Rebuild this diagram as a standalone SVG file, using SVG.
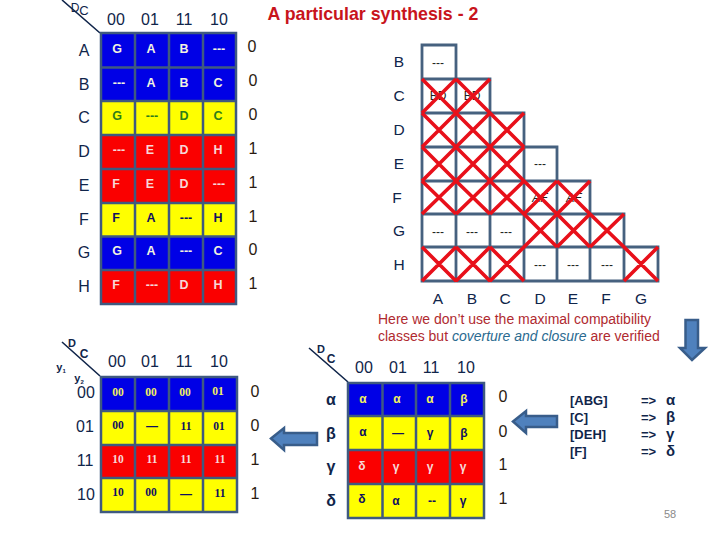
<svg xmlns="http://www.w3.org/2000/svg" width="720" height="540" viewBox="0 0 720 540">
<style>
text{font-family:"Liberation Sans",Arial,sans-serif;text-anchor:middle}
.h{font-size:16px;fill:#10254a}
.o{font-size:16px;fill:#2a1a10}
.c{font-size:12.500px;font-weight:bold}
.w{fill:#f2f2e0}.g{fill:#2e7d1a}.n{fill:#101060}.y{fill:#f2f060}.p{fill:#f6d8d8}
.grid{stroke:#3f5a80;stroke-width:2.5;fill:none}
.tri{stroke:#46617f;stroke-width:2.800;fill:#fff}
.x{stroke:#e8101a;stroke-width:3.600;fill:none}
.d{font-size:12px;fill:#222}
.lab{font-size:15.500px;fill:#10254a}
.arr{fill:#4f81bd;stroke:#385d8a;stroke-width:2.500}
.b{fill:#0000e6}.r{fill:#fa0000}.l{fill:#ffff00}
.m{font-size:13px;font-weight:bold;text-anchor:start;fill:#10254a}
.s{font-family:"Liberation Serif",serif;font-size:11.500px;font-weight:bold}
.k{font-weight:bold;fill:#10254a}
.e{font-size:12px;font-weight:bold}
</style>
<rect width="720" height="540" fill="#fff"/>
<g id="connectors">
<path d="M62 0L100 33M62 342L100 376M309 348L348 382" stroke="#10254a" stroke-width="1.600" fill="none"/>
</g>
<g id="title"><text x="373" y="20" font-size="17.800" font-weight="bold" fill="#c8141c">A particular synthesis - 2</text></g>
<g id="table1">
<text class="h" x="75" y="12" style="font-size:12px">D</text><text class="h" x="84" y="15" style="font-size:13px">C</text>
<g class="h"><text x="116" y="25">00</text><text x="150" y="25">01</text><text x="184" y="25">11</text><text x="219" y="25">10</text>
<text x="84" y="56">A</text><text x="84" y="90">B</text><text x="84" y="123">C</text><text x="84" y="157">D</text><text x="84" y="191">E</text><text x="84" y="225">F</text><text x="84" y="258">G</text><text x="84" y="292">H</text></g>
<rect class="b" x="101" y="33" width="135" height="68"/><rect class="l" x="101" y="101" width="135" height="34"/><rect class="r" x="101" y="135" width="135" height="68"/><rect class="l" x="101" y="203" width="135" height="33.500"/><rect class="b" x="101" y="236.500" width="135" height="33.500"/><rect class="r" x="101" y="270" width="135" height="34"/>
<path class="grid" d="M101 33H236V304H101ZM135 33V304M169 33V304M203 33V304M101 67.500H236M101 101H236M101 135H236M101 169H236M101 203H236M101 236.500H236M101 270H236"/>
<g class="c">
<text class="w" x="117" y="53">G</text><text class="w" x="151" y="53">A</text><text class="w" x="184" y="53">B</text><text class="w" x="219" y="53">---</text>
<text class="w" x="119" y="87">---</text><text class="w" x="151" y="87">A</text><text class="w" x="184" y="87">B</text><text class="w" x="218" y="87">C</text>
<text class="g" x="117" y="120">G</text><text class="g" x="152" y="120">---</text><text class="g" x="184" y="120">D</text><text class="g" x="218" y="120">C</text>
<text class="p" x="119" y="154">---</text><text class="p" x="150" y="154">E</text><text class="p" x="184" y="154">D</text><text class="p" x="218" y="154">H</text>
<text class="p" x="116" y="188">F</text><text class="p" x="150" y="188">E</text><text class="p" x="184" y="188">D</text><text class="p" x="219" y="188">---</text>
<text class="n" x="116" y="222">F</text><text class="n" x="151" y="222">A</text><text class="n" x="186" y="222">---</text><text class="n" x="218" y="222">H</text>
<text class="w" x="117" y="255">G</text><text class="w" x="151" y="255">A</text><text class="w" x="186" y="255">---</text><text class="w" x="218" y="255">C</text>
<text class="p" x="116" y="289">F</text><text class="p" x="152" y="289">---</text><text class="p" x="184" y="289">D</text><text class="p" x="218" y="289">H</text>
</g>
<g class="o"><text x="252" y="52">0</text><text x="253" y="86">0</text><text x="253" y="120">0</text><text x="253" y="154">1</text><text x="253" y="188">1</text><text x="253" y="222">1</text><text x="253" y="255">0</text><text x="253" y="289">1</text></g>
</g>
<g id="triangle">
<path class="tri" d="M422 45H456V79H422ZM422 79H490V113H422ZM422 113H524V147H422ZM422 147H557V181H422ZM422 181H590V214H422ZM422 214H624V247H422ZM422 247H658V281H422Z"/>
<path class="tri" style="fill:none" d="M456 79V281M490 113V281M524 147V281M557 181V281M590 214V281M624 247V281"/>
<g class="lab"><text x="399" y="67">B</text><text x="399" y="101">C</text><text x="399" y="135">D</text><text x="399" y="169">E</text><text x="397" y="203">F</text><text x="399" y="236">G</text><text x="399" y="270">H</text>
<text x="438" y="304">A</text><text x="472" y="304">B</text><text x="505" y="304">C</text><text x="540" y="304">D</text><text x="573" y="304">E</text><text x="606" y="304">F</text><text x="641" y="304">G</text></g>
<g class="d"><text x="438" y="67">---</text><text x="438" y="100">BD</text><text x="472" y="100">BD</text><text x="540" y="168">---</text><text x="540" y="202" font-style="italic">AF</text><text x="574" y="202" font-style="italic">AF</text>
<text x="438" y="236">---</text><text x="472" y="236">---</text><text x="506" y="236">---</text><text x="540" y="269">---</text><text x="573" y="269">---</text><text x="607" y="269">---</text></g>
<path class="x" d="M422 79L456 113M456 79L422 113M456 79L490 113M490 79L456 113
M422 113L456 147M456 113L422 147M456 113L490 147M490 113L456 147M490 113L524 147M524 113L490 147
M422 147L456 181M456 147L422 181M456 147L490 181M490 147L456 181M490 147L524 181M524 147L490 181
M422 181L456 214M456 181L422 214M456 181L490 214M490 181L456 214M490 181L524 214M524 181L490 214M524 181L557 214M557 181L524 214M557 181L590 214M590 181L557 214
M524 214L557 247M557 214L524 247M557 214L590 247M590 214L557 247M590 214L624 247M624 214L590 247
M422 247L456 281M456 247L422 281M456 247L490 281M490 247L456 281M490 247L524 281M524 247L490 281M624 247L658 281M658 247L624 281"/>
</g>
<g id="note"><text x="378" y="324" font-size="14" fill="#b02a30" style="text-anchor:start">Here we don’t use the maximal compatibility</text>
<text x="378" y="341" font-size="14" fill="#b02a30" style="text-anchor:start">classes but <tspan fill="#2a6a90" font-style="italic">coverture and closure</tspan> are verified</text></g>
<g id="table3">
<text class="k" x="72" y="347" style="font-size:11px">D</text><text class="k" x="84" y="358" style="font-size:12px">C</text>
<text class="k" x="61" y="371" style="font-size:11px">y<tspan font-size="6" dy="2">1</tspan></text><text class="k" x="79" y="382" style="font-size:11px">y<tspan font-size="6" dy="2">2</tspan></text>
<g class="h"><text x="117" y="367">00</text><text x="150" y="367">01</text><text x="184" y="367">11</text><text x="219" y="367">10</text>
<text x="86" y="398">00</text><text x="85" y="432">01</text><text x="85" y="466">11</text><text x="86" y="500">10</text></g>
<rect class="b" x="101" y="377" width="136" height="34"/><rect class="l" x="101" y="411" width="136" height="34"/><rect class="r" x="101" y="445" width="136" height="33"/><rect class="l" x="101" y="478" width="136" height="34"/>
<path class="grid" d="M101 377H237V512H101ZM135 377V512M169 377V512M203 377V512M101 411H237M101 445H237M101 478H237"/>
<text class="y s" x="118" y="396">00</text><text class="y s" x="151" y="396">00</text><text class="y s" x="185" y="396">00</text><text class="y s" x="218" y="395">01</text>
<text class="n s" x="118" y="429">00</text><text class="n e" x="152" y="430">—</text><text class="n s" x="186" y="430">11</text><text class="n s" x="219" y="430">01</text>
<text class="p s" x="118" y="463">10</text><text class="p s" x="152" y="463">11</text><text class="p s" x="186" y="463">11</text><text class="p s" x="220" y="463">11</text>
<text class="n s" x="118" y="496">10</text><text class="n s" x="151" y="496">00</text><text class="n e" x="186" y="498">—</text><text class="n s" x="220" y="497">11</text>
<g class="o"><text x="255" y="397">0</text><text x="255" y="431">0</text><text x="255" y="465">1</text><text x="255" y="499">1</text></g>
</g>
<g id="table4">
<text class="k" x="321" y="353" style="font-size:11px">D</text><text class="k" x="331" y="363" style="font-size:12px">C</text>
<g class="h"><text x="364" y="373">00</text><text x="398" y="373">01</text><text x="431" y="373">11</text><text x="466" y="373">10</text></g>
<g><text class="k" x="331" y="405" style="font-size:16px">α</text><text class="k" x="331" y="439" style="font-size:16px">β</text><text class="k" x="331" y="472" style="font-size:16px">γ</text><text class="k" x="331" y="506" style="font-size:16px">δ</text></g>
<rect class="b" x="348" y="383" width="136" height="33"/><rect class="l" x="348" y="416" width="136" height="34"/><rect class="r" x="348" y="450" width="136" height="34"/><rect class="l" x="348" y="484" width="136" height="34"/>
<path class="grid" d="M348 383H484V518H348ZM382.500 383V518M416 383V518M450 383V518M348 416H484M348 450H484M348 484H484"/>
<text class="y e" x="363" y="403">α</text><text class="y e" x="397" y="403">α</text><text class="y e" x="430" y="403">α</text><text class="y e" x="464" y="403">β</text>
<text class="n e" x="363" y="436">α</text><text class="n e" x="398" y="437">—</text><text class="n e" x="430" y="437">γ</text><text class="n e" x="464" y="437">β</text>
<text class="p e" x="362" y="470">δ</text><text class="p e" x="396" y="471">γ</text><text class="p e" x="430" y="471">γ</text><text class="p e" x="463" y="471">γ</text>
<text class="n e" x="362" y="503">δ</text><text class="n e" x="396" y="505">α</text><text class="n e" x="432" y="505">--</text><text class="n e" x="463" y="505">γ</text>
<g class="o"><text x="503" y="402">0</text><text x="503" y="437">0</text><text x="503" y="470">1</text><text x="503" y="504">1</text></g>
</g>
<g id="mapping">
<text class="m" x="570" y="405">[ABG]</text><text class="m" x="570" y="422">[C]</text><text class="m" x="570" y="439">[DEH]</text><text class="m" x="570" y="456">[F]</text>
<text class="m" x="641" y="405">=&gt;</text><text class="m" x="641" y="422">=&gt;</text><text class="m" x="641" y="439">=&gt;</text><text class="m" x="641" y="456">=&gt;</text>
<text class="m" x="666" y="405" style="font-size:15px">α</text><text class="m" x="666" y="422" style="font-size:15px">β</text><text class="m" x="666" y="439" style="font-size:15px">γ</text><text class="m" x="666" y="456" style="font-size:15px">δ</text>
</g>
<g id="arrow-down"><path class="arr" d="M685.500 320H698V348H705L692 360L680 348H685.500Z"/></g>
<g id="arrow-left1"><path class="arr" d="M271 438.500L284 428V433H317V445H284V450Z"/></g>
<g id="arrow-left2"><path class="arr" d="M513 421.500L526 411V416H557V427H526V433Z"/></g>
<g id="page"><text x="670" y="518" font-size="11" fill="#8a8a8a">58</text></g>
</svg>
